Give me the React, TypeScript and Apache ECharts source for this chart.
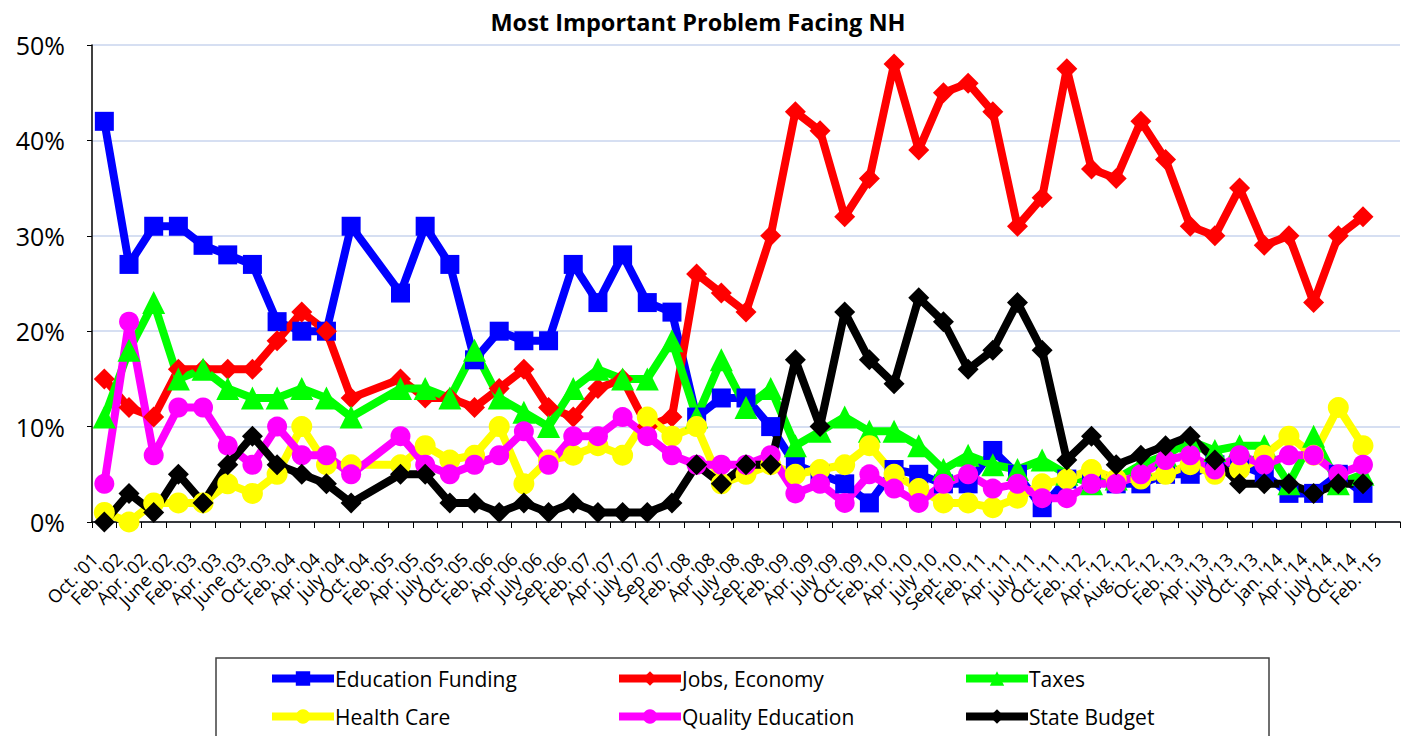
import React, { useEffect, useRef } from "react";
import * as echarts from "echarts";

const categories = [
  "Oct. '01", "Feb. '02", "Apr. '02", "June '02", "Feb. '03", "Apr. '03", "June '03", "Oct. '03",
  "Feb. '04", "Apr. '04", "July '04", "Oct. '04", "Feb. '05", "Apr. '05", "July '05", "Oct. '05",
  "Feb. '06", "Apr '06", "July '06", "Sep. '06", "Feb. '07", "Apr. '07", "July '07", "Sep '07",
  "Feb. '08", "Apr '08", "July '08", "Sep. '08", "Feb. '09", "Apr. '09", "July '09", "Oct. '09",
  "Feb. '10", "Apr. '10", "July '10", "Sept. '10", "Feb. '11", "Apr. '11", "July '11", "Oct. '11",
  "Feb. '12", "Apr. '12", "Aug. '12", "Oc. '12", "Feb. '13", "Apr. '13", "July '13", "Oct. '13",
  "Jan. '14", "Apr. '14", "July '14", "Oct. '14", "Feb. '15",
];

const educationFunding = [
  42, 27, 31, 31, 29, 28, 27, 21, 20, 20, 31, null, 24, 31, 27, 17,
  20, 19, 19, 27, 23, 28, 23, 22, 11, 13, 13, 10, 6, 5, 4, 2,
  5.5, 5, 4, 4, 7.5, 5, 1.5, 4.5, 4.5, 4, 4, 5, 5, 6, 6, 5,
  3, 3, 5, 3, null,
];

const jobsEconomy = [
  15, 12, 11, 16, 16, 16, 16, 19, 22, 20, 13, null, 15, 13, 13, 12,
  14, 16, 12, 11, 14, 15, 10, 11, 26, 24, 22, 30, 43, 41, 32, 36,
  48, 39, 45, 46, 43, 31, 34, 47.5, 37, 36, 42, 38, 31, 30, 35, 29,
  30, 23, 30, 32, null,
];

const taxes = [
  11, 18, 23, 15, 16, 14, 13, 13, 14, 13, 11, null, 14, 14, 13, 18,
  13, 11.5, 10, 14, 16, 15, 15, 19, 11, 17, 12, 14, 8, 9.5, 11, 9.5,
  9.5, 8, 5.5, 7, 6, 5.5, 6.5, 5, 4, 4.5, 6, 7, 8.5, 7.5, 8, 8,
  4, 9, 4, 5, null,
];

const healthCare = [
  1, 0, 2, 2, 2, 4, 3, 5, 10, 6, 6, null, 6, 8, 6.5, 7,
  10, 4, 6.5, 7, 8, 7, 11, 9, 10, 4, 5, 6, 5, 5.5, 6, 8,
  5, 3.5, 2, 2, 1.5, 2.5, 4, 4.5, 5.5, 4.5, 4.5, 5, 6, 5, 5.5, 7,
  9, 7, 12, 8, null,
];

const qualityEducation = [
  4, 21, 7, 12, 12, 8, 6, 10, 7, 7, 5, null, 9, 6, 5, 6,
  7, 9.5, 6, 9, 9, 11, 9, 7, 6, 6, 6, 7, 3, 4, 2, 5,
  3.5, 2, 4, 5, 3.5, 4, 2.5, 2.5, 4, 4, 5, 6.5, 7, 5.5, 7, 6,
  7, 7, 5, 6, null,
];

const stateBudget = [
  0, 3, 1, 5, 2, 6, 9, 6, 5, 4, 2, null, 5, 5, 2, 2,
  1, 2, 1, 2, 1, 1, 1, 2, 6, 4, 6, 6, 17, 10, 22, 17,
  14.5, 23.5, 21, 16, 18, 23, 18, 6.5, 9, 6, 7, 8, 9, 6.5, 4, 4,
  4, 3, 4, 4, null,
];

const yTicks = [0, 10, 20, 30, 40, 50];

const FONT = "'Open Sans', 'Noto Sans', sans-serif";

export default function App() {
  const ref = useRef<HTMLDivElement>(null);

  useEffect(() => {
    if (!ref.current) return;
    const chart = echarts.init(ref.current, undefined, { renderer: "svg" });

    const mk = (name: string, data: (number | null)[], color: string, symbol: string, symbolSize: number) => ({
      name,
      type: "line",
      data,
      connectNulls: true,
      symbol,
      symbolSize,
      showAllSymbol: true,
      lineStyle: { width: 8, color },
      itemStyle: { color },
      emphasis: { disabled: true },
    });

    const legendItem = (name: string, left: number, top: number) => ({
      orient: "horizontal",
      left,
      top,
      padding: 0,
      itemWidth: 62,
      itemHeight: 18,
      itemGap: 0,
      lineStyle: { width: 8 },
      textStyle: { fontFamily: FONT, fontSize: 21, color: "#000", padding: [0, 0, 0, -4] },
      data: [name],
    });

    const option = {
      animation: false,
      backgroundColor: "#ffffff",
      title: {
        text: "Most Important Problem Facing NH",
        left: 693,
        textAlign: "center",
        top: 5,
        textStyle: { fontFamily: FONT, fontWeight: "bold", fontSize: 23.5, color: "#000" },
      },
      grid: { left: 92, right: 5, top: 45, bottom: 214 },
      xAxis: {
        type: "category",
        data: categories,
        boundaryGap: true,
        axisLine: { lineStyle: { color: "#000", width: 1.5 } },
        axisTick: { show: true, length: 6, lineStyle: { color: "#000", width: 1 } },
        axisLabel: {
          rotate: 45,
          interval: 0,
          fontSize: 18,
          color: "#000",
          margin: 24,
          padding: [0, 14, 0, 0],
          fontFamily: FONT,
        },
      },
      yAxis: {
        type: "value",
        min: yTicks[0],
        max: yTicks[yTicks.length - 1],
        interval: 10,
        axisLine: { show: true, lineStyle: { color: "#000", width: 1.5 } },
        axisTick: { show: true, length: 5, lineStyle: { color: "#000" } },
        axisLabel: { formatter: "{value}%", fontSize: 25, color: "#000", margin: 27, fontFamily: FONT },
        splitLine: { lineStyle: { color: "#c8d4ee", width: 1.5 } },
      },
      legend: [
        legendItem("Education Funding", 268, 668),
        legendItem("Jobs, Economy", 615, 668),
        legendItem("Taxes", 962, 668),
        legendItem("Health Care", 268, 706),
        legendItem("Quality Education", 615, 706),
        legendItem("State Budget", 962, 706),
      ],
      graphic: [
        {
          type: "rect",
          shape: { x: 216, y: 658, width: 1053, height: 90 },
          style: { fill: "none", stroke: "#404040", lineWidth: 1.5 },
          z: -1,
        },
      ],
      series: [
        mk("Education Funding", educationFunding, "#0000ff", "rect", 19),
        mk("Jobs, Economy", jobsEconomy, "#ff0000", "diamond", 21),
        mk("Taxes", taxes, "#00ff00", "triangle", 23),
        mk("Health Care", healthCare, "#ffff00", "circle", 21),
        mk("Quality Education", qualityEducation, "#ff00ff", "circle", 20),
        mk("State Budget", stateBudget, "#000000", "diamond", 21),
      ],
    };

    chart.setOption(option as any);
    return () => chart.dispose();
  }, []);

  return (
    <div
      ref={ref}
      style={{ position: "fixed", left: 0, top: 0, width: 1405, height: 736, background: "#fff" }}
    />
  );
}
